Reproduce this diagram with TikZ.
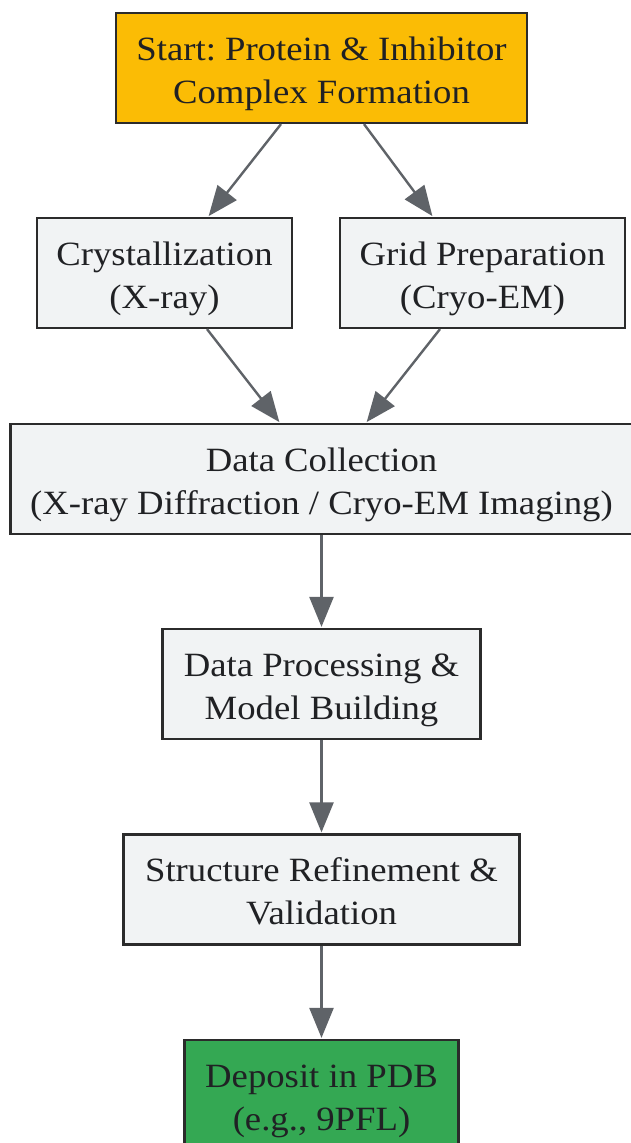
\documentclass[tikz,border=0pt]{standalone}
\usepackage{fontspec}
\setmainfont{Liberation Serif}[FakeStretch=1.08]
\usetikzlibrary{arrows.meta,positioning}
\frenchspacing
\definecolor{startc}{HTML}{FBBC05}
\definecolor{greyc}{HTML}{F1F3F4}
\definecolor{greenc}{HTML}{34A853}
\definecolor{edgec}{HTML}{5F6368}
\definecolor{txtc}{HTML}{202124}
\definecolor{borderc}{HTML}{2B2B2B}
\tikzset{
  box/.style={draw=borderc, line width=2.2pt, fill=greyc, text=txtc, align=center,
    minimum height=110pt, inner sep=0pt,
    font=\fontsize{34pt}{43pt}\selectfont\frenchspacing,
    execute at end node={\rule[-8pt]{0pt}{8pt}}},
  flow/.style={draw=edgec, line width=2.4pt, -{Triangle[length=30pt,width=24pt]}, shorten >=1pt}
}
\newcommand\tstrut{\rule{0pt}{35pt}}
\begin{document}
\begin{tikzpicture}[x=1pt,y=1pt]
\useasboundingbox (0,0) rectangle (631,-1143);
\node[box, fill=startc, minimum width=411pt] (start) at (321.5,-68) {\tstrut Start: Protein \& Inhibitor\\Complex Formation};
\node[box, minimum width=255pt] (cry) at (164.5,-273) {\tstrut Crystallization\\(X-ray)};
\node[box, minimum width=285pt] (grid) at (482.5,-273) {\tstrut Grid Preparation\\(Cryo-EM)};
\node[box, minimum width=622pt] (dc) at (321.5,-479) {\tstrut Data Collection\\(X-ray Diffraction / Cryo-EM Imaging)};
\node[box, minimum width=318pt] (dp) at (321.5,-684) {\tstrut Data Processing \&\\Model Building};
\node[box, minimum width=396pt] (sr) at (321.5,-889.5) {\tstrut Structure Refinement \&\\Validation};
\node[box, fill=greenc, minimum width=274pt] (dep) at (321.5,-1095) {\tstrut Deposit in PDB\\(e.g., 9PFL)};
\draw[flow] ([xshift=-40.5pt]start.south) -- ([xshift=43.5pt]cry.north);
\draw[flow] ([xshift=42.5pt]start.south) -- ([xshift=-49.5pt]grid.north);
\draw[flow] ([xshift=42.5pt]cry.south) -- ([xshift=-41.5pt]dc.north);
\draw[flow] ([xshift=-42.5pt]grid.south) -- ([xshift=44.5pt]dc.north);
\draw[flow] (dc.south) -- (dp.north);
\draw[flow] (dp.south) -- (sr.north);
\draw[flow] (sr.south) -- (dep.north);
\end{tikzpicture}
\end{document}
